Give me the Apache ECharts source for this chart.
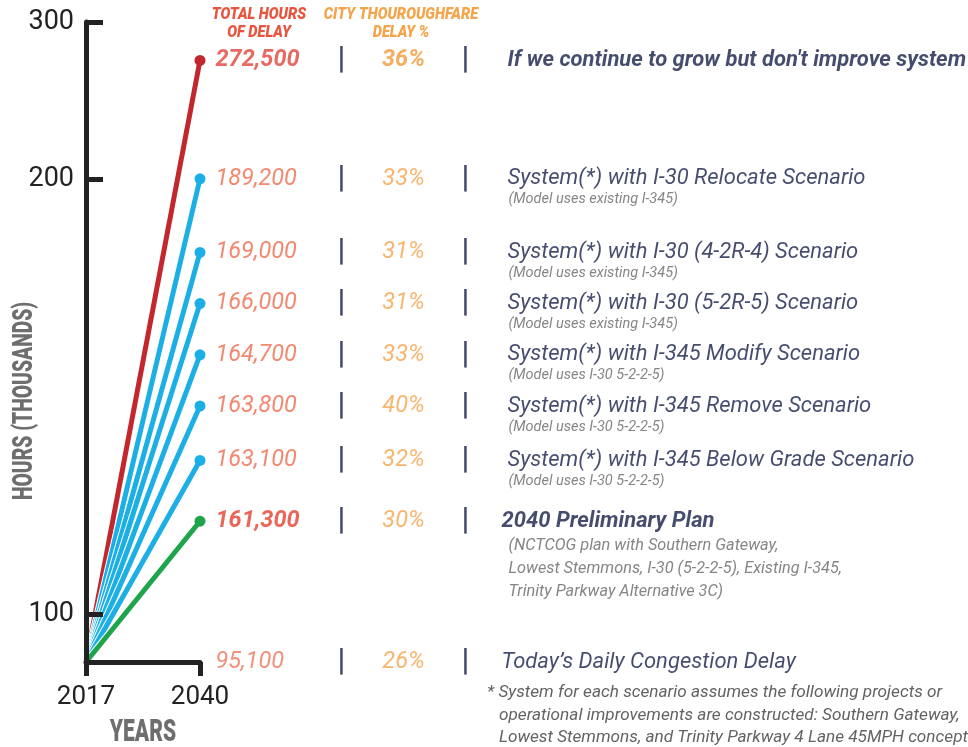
<!DOCTYPE html>
<html><head><meta charset="utf-8">
<script src="https://cdn.jsdelivr.net/npm/echarts@6/dist/echarts.min.js"></script>
<style>html,body{margin:0;padding:0;background:#fff}#c{width:968px;height:747px}</style>
</head><body><div id="c"></div>
<script>
// ---------- data ----------
const years = ['2017', '2040'];
const yTickLabels = ['300', '200', '100'];
const scenarios = [
  "If we continue to grow but don't improve system",
  'System(*) with I-30 Relocate Scenario',
  'System(*) with I-30 (4-2R-4) Scenario',
  'System(*) with I-30 (5-2R-5) Scenario',
  'System(*) with I-345 Modify Scenario',
  'System(*) with I-345 Remove Scenario',
  'System(*) with I-345 Below Grade Scenario',
  '2040 Preliminary Plan'
];
const scenarioNotes = [
  '',
  '(Model uses existing I-345)',
  '(Model uses existing I-345)',
  '(Model uses existing I-345)',
  '(Model uses I-30 5-2-2-5)',
  '(Model uses I-30 5-2-2-5)',
  '(Model uses I-30 5-2-2-5)',
  '(NCTCOG plan with Southern Gateway,\nLowest Stemmons, I-30 (5-2-2-5), Existing I-345,\nTrinity Parkway Alternative 3C)'
];
const hours2040 = [272500, 189200, 169000, 166000, 164700, 163800, 163100, 161300];
const cityDelayPct2040 = [36, 33, 31, 31, 33, 40, 32, 30];
const todayLabel = 'Today\u2019s Daily Congestion Delay';
const hoursToday = 95100;
const cityDelayPctToday = 26;
const headerHours = ['TOTAL HOURS', 'OF DELAY'];
const headerPct = ['CITY THOUROUGHFARE', 'DELAY %'];
const axisNameY = 'HOURS (THOUSANDS)';
const axisNameX = 'YEARS';
const footnote = [
  '* System for each scenario assumes the following projects or',
  'operational improvements are constructed: Southern Gateway,',
  'Lowest Stemmons, and Trinity Parkway 4 Lane 45MPH concept'
];

// ---------- layout: schematic row slots of the original graphic ----------
const SLOT_COUNT = 201;
const scenarioSlot = [12, 49, 72, 88, 104, 120, 137, 156];
const todaySlot = 200;
const yTickSlot = [0, 49, 185];

const F = 'Roboto, "Noto Sans", sans-serif';
const RED = '#c1272d', BLUE = '#1cafe5', GREEN = '#1ea54b';
const NAVY = '#161f4a';

function lineColor(i) {
  if (i === 0) return RED;
  if (i === scenarios.length - 1) return GREEN;
  return BLUE;
}
const fmt = v => v.toLocaleString('en-US');

const slots = Array.from({length: SLOT_COUNT}, (_, i) => String(i));
const tickAt = i => yTickSlot.indexOf(i) >= 0;

const lineSeries = [];
scenarios.forEach((name, i) => {
  const pts = [[0, todaySlot], [1, scenarioSlot[i]]];
  lineSeries.push({
    type: 'line', name: name + ' halo', data: pts, showSymbol: false, symbol: 'none',
    lineStyle: {width: 7, color: '#ffffff'}, z: 3 + 2 * i, silent: true
  });
  lineSeries.push({
    type: 'line', name: name, data: pts,
    symbol: 'circle',
    symbolSize: (v, p) => (p.dataIndex === 1 ? 11 : 0),
    showSymbol: true,
    lineStyle: {width: 5, color: lineColor(i)},
    itemStyle: {color: lineColor(i)},
    z: 4 + 2 * i, silent: true
  });
});

// table rows (hours | pct | description)
const last = scenarios.length - 1;
const rows = scenarios.map((name, i) => ({
  slot: scenarioSlot[i], hours: hours2040[i], pct: cityDelayPct2040[i], desc: name,
  hStyle: i === 0 ? 'hb' : (i === last ? 'hr' : 'h'),
  pStyle: i === 0 ? 'pb' : 'p',
  dStyle: (i === 0 || i === last) ? 'db' : 'd',
  gap: i === last ? 'g2' : 'g'
}));
rows.push({slot: todaySlot, hours: hoursToday, pct: cityDelayPctToday, desc: todayLabel,
  hStyle: 'ht', pStyle: 'p', dStyle: 'd', gap: 'g2'});

const tableData = rows.map(r => ({
  value: [1, r.slot],
  label: {
    formatter: '{' + r.hStyle + '|' + fmt(r.hours) + '}' +
      '{s||}' + '{' + r.pStyle + '|' + r.pct + '%}' + '{s||}' +
      '{' + r.gap + '| }' + '{' + r.dStyle + '|' + r.desc + '}'
  }
}));

const notesData = scenarioNotes.map((n, i) => {
  if (!n) return null;
  const lines = n.split('\n').length;
  const multi = lines > 1;
  return {
    value: [1, scenarioSlot[i]],
    label: {
      formatter: n,
      fontSize: multi ? 16.3 : 14.5,
      offset: [0, multi ? 25 + (lines - 1) * 11.5 : 21]
    }
  };
}).filter(Boolean);

const hS = {fontSize: 23.5, fontStyle: 'italic', fontFamily: F, width: 122, align: 'left'};
const pS = {fontSize: 23.5, fontStyle: 'italic', fontFamily: F, width: 116, align: 'center'};
const dS = {fontSize: 22, fontStyle: 'italic', fontWeight: 'normal', fontFamily: F, color: NAVY};

function txt(x, y, text, font, fill, extra) {
  return Object.assign({type: 'text', x: x, y: y, z: 100,
    style: {text: text, align: 'center', verticalAlign: 'middle', font: font, fill: fill}}, extra || {});
}

const option = {
  animation: false,
  backgroundColor: '#ffffff',
  grid: {left: 86, top: 22, right: 768, bottom: 85, containLabel: false, outerBoundsMode: 'none'},
  xAxis: {
    type: 'category', data: years, boundaryGap: false, z: 50,
    axisLine: {lineStyle: {color: '#222', width: 5}},
    axisTick: {show: true, length: 14, lineStyle: {color: '#222', width: 5}},
    axisLabel: {fontSize: 26, color: '#222', margin: 22, fontFamily: F},
    splitLine: {show: false}
  },
  yAxis: {
    type: 'category', data: slots, inverse: true, boundaryGap: false, z: 50,
    axisLine: {lineStyle: {color: '#222', width: 5}},
    axisTick: {show: true, inside: true, length: 17, interval: (i) => tickAt(i),
      lineStyle: {color: '#222', width: 5}},
    axisLabel: {show: true, interval: (i) => tickAt(i), fontSize: 27, color: '#222', margin: 12,
      fontFamily: F,
      formatter: (v, i) => { const k = yTickSlot.indexOf(i); return k >= 0 ? yTickLabels[k] : ''; }},
    splitLine: {show: false}
  },
  graphic: [
    txt(259, 15, headerHours[0], 'italic 900 17px ' + F, '#e8553f', {scaleX: 0.86}),
    txt(259, 33, headerHours[1], 'italic 900 17px ' + F, '#e8553f', {scaleX: 0.86}),
    txt(401, 15, headerPct[0], 'italic 900 17px ' + F, '#f4a44a', {scaleX: 0.86}),
    txt(401, 33, headerPct[1], 'italic 900 17px ' + F, '#f4a44a', {scaleX: 0.86}),
    txt(25, 401, axisNameY, '900 28px ' + F, '#6e6e6e', {rotation: Math.PI / 2, scaleX: 0.69}),
    txt(143, 733, axisNameX, '900 31px ' + F, '#6e6e6e', {scaleX: 0.68}),
    {type: 'text', x: 487, y: 693, z: 100, style: {text: footnote[0], verticalAlign: 'middle',
      font: 'italic 17.2px ' + F, fill: '#636363'}},
    {type: 'text', x: 499, y: 716, z: 100, style: {text: footnote[1], verticalAlign: 'middle',
      font: 'italic 17.2px ' + F, fill: '#636363'}},
    {type: 'text', x: 499, y: 738, z: 100, style: {text: footnote[2], verticalAlign: 'middle',
      font: 'italic 17.2px ' + F, fill: '#636363'}}
  ],
  series: lineSeries.concat([
    {
      type: 'scatter', name: 'table', data: tableData, symbolSize: 1,
      itemStyle: {color: 'rgba(0,0,0,0)'}, z: 60, silent: true,
      label: {
        show: true, position: 'right', distance: 15,
        rich: {
          h: Object.assign({}, hS, {color: '#f06a4e'}),
          ht: Object.assign({}, hS, {color: '#ef7659'}),
          hb: Object.assign({}, hS, {color: '#e2443a', fontWeight: 'bold'}),
          hr: Object.assign({}, hS, {color: '#e6402f', fontWeight: 'bold'}),
          s: {fontSize: 31, fontWeight: 'bold', fontFamily: F, color: NAVY, width: 8, align: 'center'},
          p: Object.assign({}, pS, {color: '#f5a44c'}),
          pb: Object.assign({}, pS, {color: '#f29838', fontWeight: 'bold'}),
          g: {width: 38, fontSize: 10},
          g2: {width: 32, fontSize: 10},
          d: dS,
          db: Object.assign({}, dS, {fontWeight: 'bold'})
        }
      }
    },
    {
      type: 'scatter', name: 'notes', data: notesData, symbolSize: 1,
      itemStyle: {color: 'rgba(0,0,0,0)'}, z: 60, silent: true,
      label: {
        show: true, position: 'right', distance: 308,
        fontSize: 14.5, fontStyle: 'italic', fontFamily: F, color: '#666666', lineHeight: 23
      }
    }
  ])
};

const chart = echarts.init(document.getElementById('c'), null, {renderer: 'canvas'});
chart.setOption(option);
</script></body></html>
